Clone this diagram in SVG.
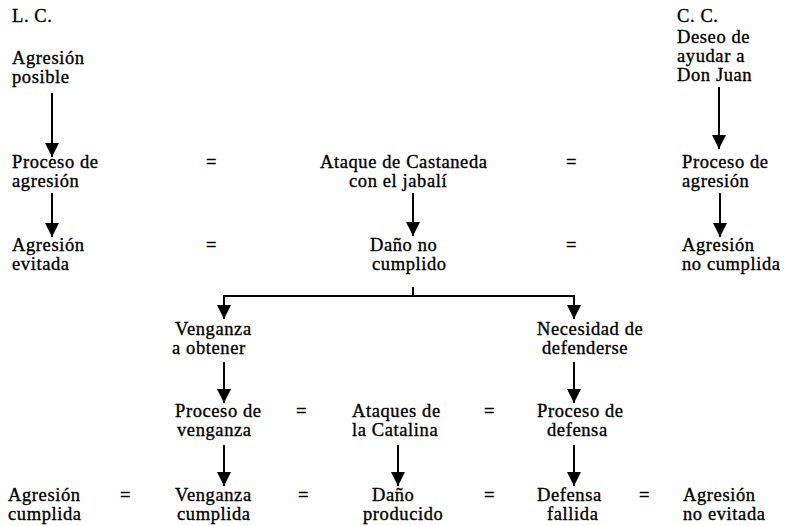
<svg xmlns="http://www.w3.org/2000/svg" width="787" height="526" viewBox="0 0 787 526">
<style>
text{font-family:"Liberation Serif","Times New Roman",serif;font-size:18.5px;letter-spacing:0.6px;fill:#000;stroke:#000;stroke-width:0.35px}
.c{stroke:#000;stroke-width:2;fill:none}
.a{marker-end:url(#ah)}
</style>
<defs>
<marker id="ah" markerUnits="userSpaceOnUse" markerWidth="14" markerHeight="14" refX="14" refY="7" orient="auto">
<path d="M0,0 L14,7 L0,14 Z" fill="#000"/>
</marker>
</defs>
<rect width="787" height="526" fill="#fff"/>
<g id="labels">
<text x="12" y="22">L. C.</text>
<text x="677" y="22">C. C.</text>
</g>
<g id="n-agresion-posible"><text x="12" y="64">Agresión</text><text x="12" y="83">posible</text></g>
<g id="n-deseo"><text x="677" y="43">Deseo de</text><text x="677" y="62">ayudar a</text><text x="677" y="81">Don Juan</text></g>
<g id="n-proceso-agresion-lc"><text x="12" y="168">Proceso de</text><text x="12" y="187">agresión</text></g>
<g id="eq1"><text x="206" y="168">=</text><text x="566" y="168">=</text></g>
<g id="n-ataque"><text x="320" y="168">Ataque de Castaneda</text><text x="349" y="187">con el jabalí</text></g>
<g id="n-proceso-agresion-cc"><text x="682" y="168">Proceso de</text><text x="682" y="187">agresión</text></g>
<g id="n-agresion-evitada"><text x="12" y="251">Agresión</text><text x="12" y="270">evitada</text></g>
<g id="eq2"><text x="206" y="251">=</text><text x="566" y="251">=</text></g>
<g id="n-dano-no"><text x="370" y="251">Daño no</text><text x="372" y="270">cumplido</text></g>
<g id="n-agresion-no-cumplida"><text x="682" y="251">Agresión</text><text x="682" y="270">no cumplida</text></g>
<g id="n-venganza-obtener"><text x="175" y="335">Venganza</text><text x="172" y="354">a obtener</text></g>
<g id="n-necesidad"><text x="537" y="335">Necesidad de</text><text x="542" y="354">defenderse</text></g>
<g id="n-proceso-venganza"><text x="175" y="417">Proceso de</text><text x="177" y="436">venganza</text></g>
<g id="eq3"><text x="296" y="417">=</text><text x="484" y="417">=</text></g>
<g id="n-ataques-catalina"><text x="352" y="417">Ataques de</text><text x="352" y="436">la Catalina</text></g>
<g id="n-proceso-defensa"><text x="537" y="417">Proceso de</text><text x="547" y="436">defensa</text></g>
<g id="n-agresion-cumplida"><text x="8" y="501">Agresión</text><text x="8" y="520">cumplida</text></g>
<g id="eq4"><text x="120" y="501">=</text><text x="298" y="501">=</text><text x="484" y="501">=</text><text x="639" y="501">=</text></g>
<g id="n-venganza-cumplida"><text x="175" y="501">Venganza</text><text x="177" y="520">cumplida</text></g>
<g id="n-dano-producido"><text x="372" y="501">Daño</text><text x="363" y="520">producido</text></g>
<g id="n-defensa-fallida"><text x="537" y="501">Defensa</text><text x="547" y="520">fallida</text></g>
<g id="n-agresion-no-evitada"><text x="683" y="501">Agresión</text><text x="683" y="520">no evitada</text></g>
<g id="connectors">
<line class="c a" x1="52" y1="93" x2="52" y2="157"/>
<line class="c a" x1="719" y1="87" x2="719" y2="149"/>
<line class="c a" x1="52" y1="193" x2="52" y2="237"/>
<line class="c a" x1="413" y1="193" x2="413" y2="236"/>
<line class="c a" x1="720" y1="193" x2="720" y2="237"/>
<line class="c" x1="413" y1="287" x2="413" y2="296"/>
<path class="c a" d="M413,296 H224 V319"/>
<path class="c a" d="M413,296 H574 V319"/>
<line class="c a" x1="224" y1="362" x2="224" y2="403"/>
<line class="c a" x1="574" y1="362" x2="574" y2="403"/>
<line class="c a" x1="224" y1="445" x2="224" y2="486"/>
<line class="c a" x1="398" y1="445" x2="398" y2="486"/>
<line class="c a" x1="574" y1="445" x2="574" y2="486"/>
</g>
</svg>
